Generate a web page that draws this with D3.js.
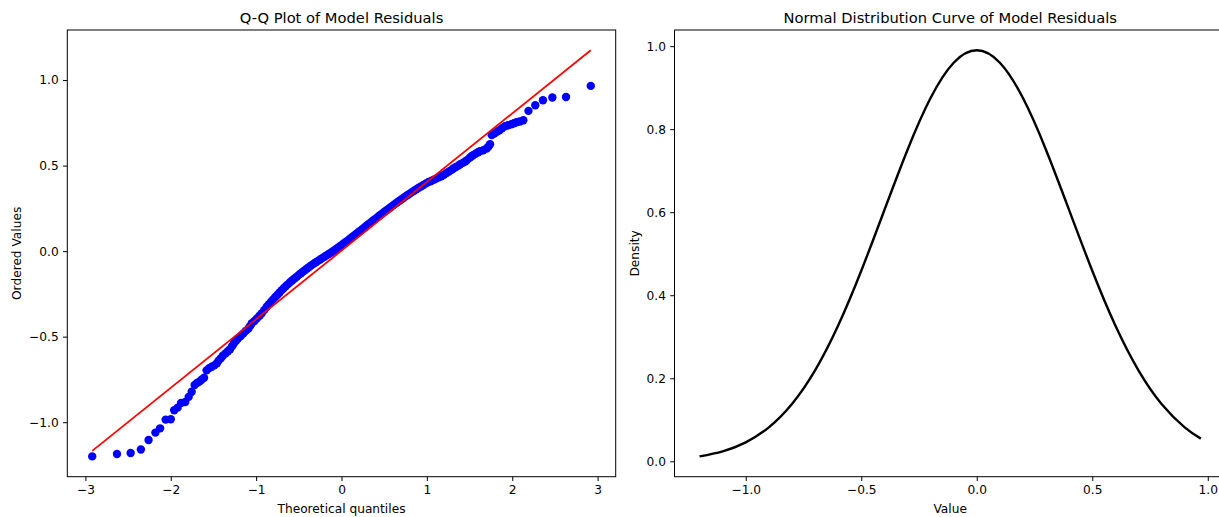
<!DOCTYPE html>
<html>
<head>
<meta charset="utf-8">
<script src="https://cdn.jsdelivr.net/npm/d3@7"></script>
<style>
  html, body { margin: 0; padding: 0; background: #fff; overflow: hidden; }
  svg { display: block; font-family: "DejaVu Sans", sans-serif; }
</style>
</head>
<body>
<svg id="chart" width="1219" height="517"></svg>
<script>
// Q-Q plot points: [theoretical quantile, ordered residual]
const qqPoints = [
  [-2.92,-1.200],[-2.63,-1.186],[-2.47,-1.180],[-2.35,-1.160],[-2.26,-1.104],[-2.18,-1.061],
  [-2.125,-1.036],[-2.06,-0.985],[-2.00,-0.983],[-1.96,-0.930],[-1.92,-0.915],[-1.88,-0.888],
  [-1.83,-0.882],[-1.79,-0.852],[-1.755,-0.822],[-1.72,-0.783],[-1.69,-0.770],[-1.665,-0.763],
  [-1.64,-0.752],[-1.61,-0.740],[-1.58,-0.697],[-1.55,-0.684],[-1.52,-0.676],[-1.49,-0.668],
  [-1.46,-0.656],[-1.44,-0.640],[-1.415,-0.627],[-1.39,-0.612],[-1.36,-0.598],[-1.33,-0.585],
  [-1.305,-0.574],[-1.28,-0.555],[-1.26,-0.539],[-1.235,-0.524],[-1.21,-0.510],[-1.18,-0.496],
  [-1.15,-0.481],[-1.12,-0.466],[-1.09,-0.452],[-1.07,-0.437],[-1.05,-0.422],[-1.02,-0.408],
  [-0.99,-0.393],[-0.96,-0.378],[-0.935,-0.364],[-0.905,-0.345],[-0.876,-0.325],[-0.85,-0.310],
  [-0.825,-0.296],[-0.80,-0.282],[-0.775,-0.268],[-0.75,-0.255],[-0.725,-0.242],[-0.70,-0.228],
  [-0.675,-0.216],[-0.65,-0.204],[-0.625,-0.193],[-0.60,-0.181],[-0.575,-0.170],[-0.55,-0.160],
  [-0.525,-0.150],[-0.50,-0.139],[-0.475,-0.129],[-0.45,-0.119],[-0.425,-0.110],[-0.40,-0.100],
  [-0.375,-0.091],[-0.35,-0.082],[-0.325,-0.073],[-0.30,-0.065],[-0.275,-0.057],[-0.25,-0.049],
  [-0.225,-0.041],[-0.20,-0.033],[-0.175,-0.025],[-0.15,-0.017],[-0.125,-0.009],[-0.10,-0.001],
  [-0.075,0.008],[-0.05,0.017],[-0.025,0.026],[0.0,0.035],[0.025,0.045],[0.05,0.054],
  [0.075,0.063],[0.10,0.073],[0.125,0.083],[0.15,0.092],[0.175,0.102],[0.20,0.112],
  [0.225,0.121],[0.25,0.131],[0.275,0.141],[0.30,0.151],[0.325,0.161],[0.35,0.171],
  [0.375,0.181],[0.40,0.190],[0.425,0.200],[0.45,0.210],[0.475,0.219],[0.50,0.229],
  [0.525,0.238],[0.55,0.247],[0.575,0.257],[0.60,0.266],[0.625,0.275],[0.65,0.284],
  [0.675,0.293],[0.70,0.302],[0.725,0.311],[0.75,0.320],[0.775,0.328],[0.80,0.336],
  [0.825,0.345],[0.85,0.353],[0.875,0.361],[0.90,0.369],[0.93,0.378],[0.96,0.387],
  [0.99,0.396],[1.02,0.404],[1.05,0.410],[1.08,0.417],[1.11,0.424],[1.14,0.431],
  [1.17,0.438],[1.20,0.447],[1.23,0.457],[1.26,0.466],[1.29,0.475],[1.31,0.483],
  [1.34,0.492],[1.37,0.500],[1.39,0.508],[1.42,0.516],[1.45,0.524],[1.47,0.532],
  [1.50,0.545],[1.52,0.553],[1.54,0.561],[1.57,0.569],[1.60,0.578],[1.62,0.584],
  [1.66,0.590],[1.70,0.600],[1.72,0.610],[1.74,0.625],[1.76,0.678],[1.79,0.688],
  [1.82,0.698],[1.85,0.707],[1.88,0.718],[1.915,0.730],[1.95,0.736],[1.99,0.742],
  [2.02,0.748],[2.05,0.753],[2.09,0.758],[2.13,0.765],[2.19,0.820],[2.27,0.853],
  [2.36,0.882],[2.47,0.898],[2.63,0.901],[2.92,0.966]
];
// fitted reference line, end points
const fitX = [-2.92, 2.92];
const fitY = [-1.168, 1.174];
const qqXTicks = [-3, -2, -1, 0, 1, 2, 3];
const qqYTicks = [-1.0, -0.5, 0.0, 0.5, 1.0];

// normal curve of residuals
const curveX       = [-1.2, -1.1, -1.0, -0.9, -0.8, -0.7, -0.6, -0.5, -0.4, -0.3, -0.2, -0.1, 0.0,
                      0.1, 0.2, 0.3, 0.4, 0.5, 0.6, 0.7, 0.8, 0.9, 0.97];
const curveDensity = [0.0118, 0.0239, 0.0456, 0.0818, 0.138, 0.219, 0.327, 0.459, 0.605, 0.750, 0.875, 0.960, 0.990,
                      0.960, 0.875, 0.750, 0.605, 0.459, 0.327, 0.219, 0.138, 0.0818, 0.0546];
const curveXTicks = [-1.0, -0.5, 0.0, 0.5, 1.0];
const curveYTicks = [0.0, 0.2, 0.4, 0.6, 0.8, 1.0];

// sizes (matplotlib look, slightly scaled down)
const tickFont = 12.2, titleFont = 14.7, labelFont = 12.2;
const tickLen = 4.3, tickPad = 4.3;

const svg = d3.select('#chart');

// pad an extent by 5% each side like matplotlib autoscale
function padded(ext) {
    const r = ext[1] - ext[0];
    return [ext[0] - 0.05 * r, ext[1] + 0.05 * r];
}

function drawAxes(g, box, x, y, xTicks, yTicks, xFmt, yFmt) {
    const xa = g.append('g')
        .attr('transform', 'translate(0,' + box.bottom + ')')
        .call(d3.axisBottom(x).tickValues(xTicks).tickFormat(xFmt)
            .tickSize(tickLen).tickPadding(tickPad));
    const ya = g.append('g')
        .attr('transform', 'translate(' + box.left + ',0)')
        .call(d3.axisLeft(y).tickValues(yTicks).tickFormat(yFmt)
            .tickSize(tickLen).tickPadding(tickPad));
    [xa, ya].forEach(a => {
        a.select('.domain').remove();
        a.selectAll('line').attr('stroke', '#000').attr('stroke-width', 1);
        a.selectAll('text').attr('fill', '#000')
            .style('font-size', tickFont + 'px')
            .style('font-family', '"DejaVu Sans", sans-serif');
    });
    // frame
    g.append('rect')
        .attr('x', box.left).attr('y', box.top)
        .attr('width', box.right - box.left).attr('height', box.bottom - box.top)
        .attr('fill', 'none').attr('stroke', '#000').attr('stroke-width', 1);
}

function addText(g, txt, x, y, size, rotate) {
    const t = g.append('text')
        .attr('text-anchor', 'middle')
        .style('font-size', size + 'px')
        .attr('fill', '#000')
        .text(txt);
    if (rotate) t.attr('transform', 'translate(' + x + ',' + y + ') rotate(-90)');
    else t.attr('x', x).attr('y', y);
}

// ---------- left: Q-Q plot ----------
const qqBox = {left: 67.3, right: 615.7, top: 30, bottom: 476.7};
const qqX = d3.scaleLinear()
    .domain(padded(d3.extent(qqPoints.map(d => d[0]).concat(fitX))))
    .range([qqBox.left, qqBox.right]);
const qqY = d3.scaleLinear()
    .domain(padded(d3.extent(qqPoints.map(d => d[1]).concat(fitY))))
    .range([qqBox.bottom, qqBox.top]);

const gl = svg.append('g');
gl.append('g').selectAll('circle')
    .data(qqPoints)
    .join('circle')
    .attr('cx', d => qqX(d[0]))
    .attr('cy', d => qqY(d[1]))
    .attr('r', 4.2)
    .attr('fill', '#0000ff');

gl.append('path')
    .datum(d3.zip(fitX, fitY))
    .attr('d', d3.line().x(d => qqX(d[0])).y(d => qqY(d[1])))
    .attr('fill', 'none')
    .attr('stroke', '#ff0000')
    .attr('stroke-width', 1.8);

drawAxes(gl, qqBox, qqX, qqY, qqXTicks, qqYTicks, d3.format('d'), d3.format('.1f'));
addText(gl, 'Q-Q Plot of Model Residuals', (qqBox.left + qqBox.right) / 2, 23, titleFont);
addText(gl, 'Theoretical quantiles', (qqBox.left + qqBox.right) / 2, 513, labelFont);
addText(gl, 'Ordered Values', 21, (qqBox.top + qqBox.bottom) / 2, labelFont, true);

// ---------- right: normal curve ----------
const nBox = {left: 674.5, right: 1225.9, top: 30, bottom: 476.7};
const nX = d3.scaleLinear()
    .domain(padded(d3.extent(curveX)))
    .range([nBox.left, nBox.right]);
const nY = d3.scaleLinear()
    .domain(padded(d3.extent(curveDensity)))
    .range([nBox.bottom, nBox.top]);

const gr = svg.append('g');
gr.append('path')
    .datum(d3.zip(curveX, curveDensity))
    .attr('d', d3.line().curve(d3.curveNatural).x(d => nX(d[0])).y(d => nY(d[1])))
    .attr('fill', 'none')
    .attr('stroke', '#000')
    .attr('stroke-width', 2.4);

drawAxes(gr, nBox, nX, nY, curveXTicks, curveYTicks, d3.format('.1f'), d3.format('.1f'));
addText(gr, 'Normal Distribution Curve of Model Residuals', (nBox.left + nBox.right) / 2, 23, titleFont);
addText(gr, 'Value', (nBox.left + nBox.right) / 2, 513, labelFont);
addText(gr, 'Density', 639, (nBox.top + nBox.bottom) / 2, labelFont, true);
</script>
</body>
</html>
